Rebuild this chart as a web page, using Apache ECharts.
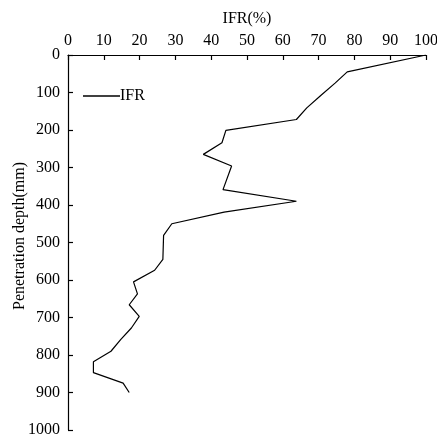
<!DOCTYPE html>
<html>
<head>
<meta charset="utf-8">
<script src="https://cdn.jsdelivr.net/npm/echarts@6/dist/echarts.min.js"></script>
<style>
  html, body { margin: 0; padding: 0; background: #fff; }
  #chart { width: 437px; height: 438px; }
</style>
</head>
<body>
<div id="chart"></div>
<script>
// IFR (%), paired with penetration depth (mm)
const ifr = [100, 78, 74.6, 70.6, 66.7, 63.8, 44.1, 43, 37.8, 45.7, 43.3, 63.8, 43.6, 29,
  26.7, 26.5, 24.2, 18.3, 19.4, 17.1, 19.9, 17.7, 14.7, 12, 7.1, 7.1, 15.4, 17.1];
const depth = [0, 45, 75, 108, 141, 172, 201, 234, 265, 296, 359, 390, 419, 450,
  481, 545, 574, 605, 637, 666, 697, 728, 759, 790, 818, 847, 875, 900];

const font = 'Liberation Serif';
const chart = echarts.init(document.getElementById('chart'));

const axisCommon = {
  axisLine: { show: true, lineStyle: { color: '#000', width: 1.2 } },
  axisTick: { show: true, inside: true, length: 5, lineStyle: { color: '#000', width: 1.2 } },
  splitLine: { show: false }
};

chart.setOption({
  animation: false,
  grid: { left: 68, right: 11, top: 55, bottom: 8, outerBoundsMode: 'none', containLabel: false },
  legend: {
    data: ['IFR'],
    left: 83,
    top: 88,
    padding: 0,
    itemWidth: 37,
    itemHeight: 1.5,
    icon: 'rect',
    textStyle: { color: '#000', fontFamily: font, fontSize: 16, padding: [0, 0, 0, -5] }
  },
  // y axis title, drawn by hand so it reads bottom-to-top on the inverted axis
  graphic: [{
    type: 'text',
    x: 20,
    y: 236,
    rotation: Math.PI / 2,
    style: {
      text: 'Penetration depth(mm)',
      fontFamily: font,
      fontSize: 16,
      fill: '#000',
      align: 'center',
      verticalAlign: 'middle'
    }
  }],
  xAxis: Object.assign({}, axisCommon, {
    type: 'value',
    position: 'top',
    min: 0,
    max: 100,
    interval: 10,
    name: 'IFR(%)',
    nameLocation: 'middle',
    nameGap: 28,
    nameTextStyle: { color: '#000', fontFamily: font, fontSize: 16 },
    axisLabel: { color: '#000', fontFamily: font, fontSize: 16, margin: 6 }
  }),
  yAxis: Object.assign({}, axisCommon, {
    type: 'value',
    inverse: true,
    min: 0,
    max: 1000,
    interval: 100,
    axisLabel: { color: '#000', fontFamily: font, fontSize: 16, margin: 8, formatter: v => String(v) }
  }),
  series: [{
    name: 'IFR',
    type: 'line',
    data: ifr.map((v, i) => [v, depth[i]]),
    showSymbol: false,
    symbol: 'none',
    itemStyle: { color: '#000' },
    lineStyle: { color: '#000', width: 1.2 }
  }]
});
</script>
</body>
</html>
